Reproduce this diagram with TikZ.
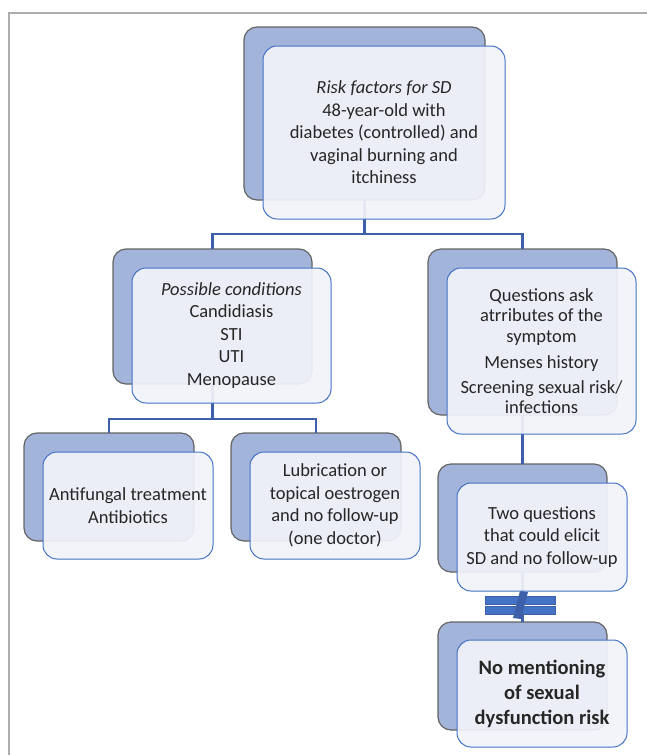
\documentclass[tikz,border=0pt]{standalone}
\usepackage{fontspec}
\setmainfont{Carlito}
\usetikzlibrary{positioning}

\definecolor{backfill}{RGB}{163,180,218}
\definecolor{backline}{RGB}{100,100,100}
\definecolor{frontfill}{RGB}{241,243,249}
\definecolor{frontline}{RGB}{68,114,196}
\definecolor{connline}{RGB}{62,95,170}
\definecolor{textgray}{RGB}{38,38,38}
\definecolor{framegray}{RGB}{173,173,173}

\tikzstyle{backbox} = [rectangle, rounded corners = 13pt, draw = backline, fill = backfill, line width = 1.2pt, anchor = north west, inner sep = 0pt, outer sep = 0pt]
\tikzstyle{frontbox} = [rectangle, rounded corners = 14pt, draw = frontline, fill = frontfill, fill opacity = 0.93, text opacity = 1, line width = 1pt, anchor = north west, inner sep = 0pt, outer sep = 0pt, align = center, text = textgray, font = \fontsize{18.5}{22.5}\selectfont]
\tikzstyle{conn} = [draw = connline, line width = 2.2pt]

\begin{document}
\begin{tikzpicture}[x = 1pt, y = -1pt]
			\useasboundingbox (0,0) rectangle (647,755);
			\draw[framegray, line width = 2pt] (9,755) -- (9,13) -- (647,13);
			% back boxes
			\node[backbox, minimum width = 241pt, minimum height = 173pt] (riskbg) at (244,27) {};
			\node[backbox, minimum width = 199pt, minimum height = 135pt] (condbg) at (113,249) {};
			\node[backbox, minimum width = 189pt, minimum height = 166pt] (questbg) at (428,249) {};
			\node[backbox, minimum width = 170pt, minimum height = 108pt] (treatbg) at (24,433) {};
			\node[backbox, minimum width = 170pt, minimum height = 108pt] (lubricbg) at (231,433) {};
			\node[backbox, minimum width = 169pt, minimum height = 108pt] (twoqbg) at (438,464) {};
			\node[backbox, minimum width = 169pt, minimum height = 108pt] (nomentionbg) at (438,622) {};
			% connectors
			\path[conn]
			(riskbg.south) -- ++(0,34) -| (condbg.north)
			(riskbg.south) -- ++(0,34) -| (questbg.north)
			(condbg.south) -- ++(0,35) -| (treatbg.north)
			(condbg.south) -- ++(0,35) -| (lubricbg.north)
			(questbg.south) -- (twoqbg.north)
			(twoqbg.south) -- (nomentionbg.north);
			% break mark
			\fill[frontline, draw = connline, line width = 0.8pt] (485,596) rectangle (555,604);
			\fill[frontline, draw = connline, line width = 0.8pt] (485,606) rectangle (555,614);
			\fill[connline] (520,591) -- (528,592) -- (521,619) -- (513,618) -- cycle;
			% front boxes
			\node[frontbox, minimum width = 242pt, minimum height = 173pt] (risk) at (263,46) {\textit{Risk factors for SD}\\48-year-old with\\diabetes (controlled) and\\vaginal burning and\\itchiness};
			\node[frontbox, minimum width = 199pt, minimum height = 135pt] (cond) at (132,268) {\textit{Possible conditions}\\Candidiasis\\STI\\UTI\\Menopause};
			\node[frontbox, minimum width = 189pt, minimum height = 166pt, font = \fontsize{18.5}{20.5}\selectfont] (quest) at (447,268) {Questions ask\\atrributes of the\\symptom\\[6pt]Menses history\\[4pt]Screening sexual risk/\\infections};
			\node[frontbox, minimum width = 170pt, minimum height = 107pt] (treat) at (43,452) {Antifungal treatment\\Antibiotics};
			\node[frontbox, minimum width = 170pt, minimum height = 107pt] (lubric) at (250,452) {Lubrication or\\topical oestrogen\\and no follow-up\\(one doctor)};
			\node[frontbox, minimum width = 170pt, minimum height = 108pt] (twoq) at (457,483) {Two questions\\that could elicit\\SD and no follow-up};
			\node[frontbox, minimum width = 170pt, minimum height = 107pt, font = \bfseries\fontsize{20.5}{25}\selectfont] (nomention) at (457,640) {No mentioning\\of sexual\\dysfunction risk};
		\end{tikzpicture}
\end{document}
